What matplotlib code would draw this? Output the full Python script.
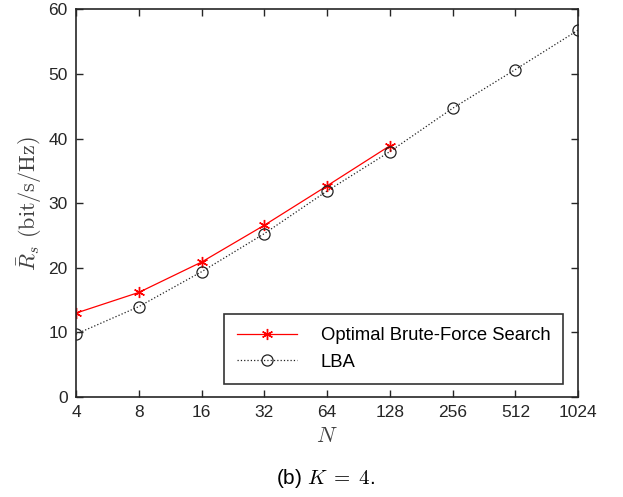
import numpy as np
import matplotlib
matplotlib.use('Agg')
import matplotlib.pyplot as plt

plt.rcParams['font.family'] = ['Liberation Sans', 'DejaVu Sans']
plt.rcParams['mathtext.fontset'] = 'cm'

# data
N_opt = [4, 8, 16, 32, 64, 128]
rate_opt = [13.0, 16.2, 20.9, 26.6, 32.7, 38.9]
N_lba = [4, 8, 16, 32, 64, 128, 256, 512, 1024]
rate_lba = [9.75, 14.0, 19.4, 25.3, 31.9, 38.0, 44.7, 50.7, 56.8]
x_ticks = [4, 8, 16, 32, 64, 128, 256, 512, 1024]
y_ticks = [0, 10, 20, 30, 40, 50, 60]

fig = plt.figure(figsize=(6.23, 4.97), dpi=100)
ax = fig.add_axes([0.122, 0.201, 0.806, 0.780])

# MATLAB-style asterisk marker (6 arms)
ax.plot(N_opt, rate_opt, color='#ff0000', linestyle='-', linewidth=0.9,
        marker=(6, 2, 0), markersize=8, markeredgewidth=1.0, label='Optimal Brute-Force Search')
ax.plot(N_lba, rate_lba, color='#222222', linestyle=':', linewidth=0.9,
        marker='o', markersize=8, markerfacecolor='none', markeredgewidth=0.9, label='LBA')

ax.set_xscale('log', base=2)
ax.set_xlim(4, 1024)
ax.set_ylim(0, 60)
ax.set_xticks(x_ticks)
ax.set_xticklabels([str(t) for t in x_ticks])
ax.set_yticks(y_ticks)
ax.minorticks_off()
ax.tick_params(direction='in', top=True, right=True, labelsize=12.5, length=5, width=1,
               colors='#262626', pad=6)
for s in ax.spines.values():
    s.set_linewidth(1.2)
    s.set_color('#262626')

ax.set_xlabel(r'$N$', fontsize=16, color='#404040', labelpad=4)
ax.set_ylabel(r'$\bar{R}_s\ (\mathrm{bit/s/Hz})$', fontsize=16, color='#404040', labelpad=3)

leg = ax.legend(loc='lower right', bbox_to_anchor=(0.97, 0.035), fontsize=13.3, frameon=True,
                fancybox=False, edgecolor='black', borderpad=0.7, labelspacing=0.5,
                handlelength=3.2, handletextpad=1.3, borderaxespad=0)
leg.get_frame().set_linewidth(1.2)

fig.text(0.522, 0.038, r'(b) $K\;=\;4$.', ha='center', va='center', fontsize=15)

fig.savefig('out.png', dpi=100)
